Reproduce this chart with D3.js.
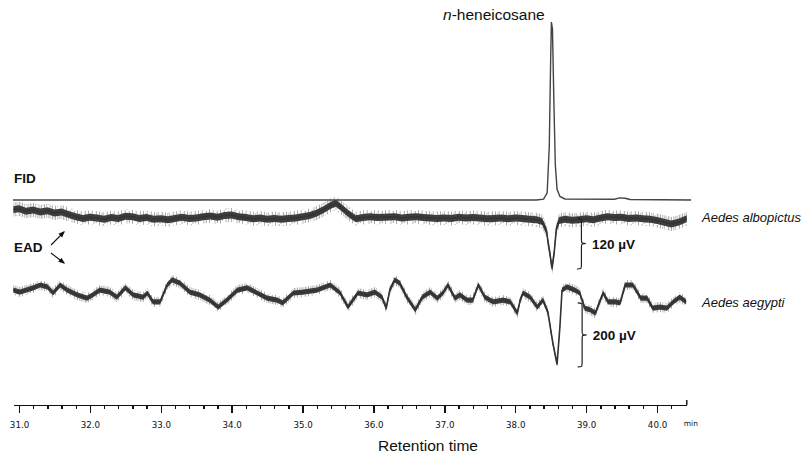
<!DOCTYPE html>
<html>
<head>
<meta charset="utf-8">
<title>GC-EAD</title>
<script src="https://cdnjs.cloudflare.com/ajax/libs/d3/7.8.5/d3.min.js"></script>
<style>
  body { margin: 0; background: #fff; font-family: "Liberation Sans", Arial, sans-serif; }
  .axis path, .axis line { fill: none; stroke: #111; stroke-width: 1.4; shape-rendering: crispEdges; }
  .axis text { font-family: "DejaVu Sans", Verdana, sans-serif; font-size: 8.7px; fill: #111; }
</style>
</head>
<body>
<div id="chart"></div>
<script>
// retention time (min), signal
var fidTrace = [
  [30.915, 0], [38.30, 0], [38.40, 0.5], [38.45, 4], [38.48, 30], [38.50, 80], [38.51, 100],
  [38.525, 96], [38.545, 55], [38.565, 20], [38.59, 6], [38.63, 2], [38.70, 0.6],
  [39.40, 0.4], [39.47, 1.2], [39.55, 1.0], [39.62, 0.3], [40.48, 0]
];

// EAD, Aedes albopictus (uV)
var albopictusTrace = [
  [30.92, 20], [31.0, 22], [31.1, 16], [31.2, 19], [31.3, 14], [31.4, 17], [31.5, 12], [31.6, 14],
  [31.7, 8], [31.8, 3], [31.9, -1], [32.0, 2], [32.1, 0], [32.2, -3], [32.3, 1], [32.4, -1],
  [32.5, 4], [32.6, 3], [32.7, -1], [32.8, 1], [32.9, -3], [33.0, -2], [33.1, -4], [33.2, -1],
  [33.3, 2], [33.4, -1], [33.5, 0], [33.6, 3], [33.7, 5], [33.8, 2], [33.9, 6], [34.0, 7],
  [34.1, 3], [34.2, 1], [34.3, -2], [34.4, 0], [34.5, -3], [34.6, -1], [34.7, -3], [34.8, -1],
  [34.9, 0], [35.0, 3], [35.1, 6], [35.2, 12], [35.3, 20], [35.4, 30], [35.47, 35], [35.55, 24],
  [35.65, 10], [35.75, -2], [35.85, 1], [35.95, 3], [36.05, 1], [36.15, 2], [36.3, 3], [36.4, 0],
  [36.5, 2], [36.6, 3], [36.7, 1], [36.8, 0], [36.9, -1], [37.0, 0], [37.1, -1], [37.2, 2],
  [37.3, 0], [37.4, 1], [37.5, 0], [37.6, -2], [37.7, -1], [37.8, 0], [37.9, -2], [38.0, 0],
  [38.1, -1], [38.2, -3], [38.3, -4], [38.38, -8], [38.44, -30], [38.48, -75], [38.52, -118],
  [38.55, -80], [38.58, -25], [38.62, -6], [38.7, -3], [38.8, -5], [38.9, -4], [39.0, -2],
  [39.1, -4], [39.2, 0], [39.3, 3], [39.4, 1], [39.5, 2], [39.6, -1], [39.7, 0], [39.8, -2],
  [39.9, -3], [40.0, -6], [40.1, -10], [40.2, -14], [40.3, -10], [40.42, -2]
];

// EAD, Aedes aegypti (uV)
var aegyptiTrace = [
  [30.92, 9], [31.01, 3], [31.20, 16], [31.30, 25], [31.40, 19], [31.48, 0], [31.58, 25], [31.68, 9],
  [31.82, -6], [31.96, -16], [32.04, -6], [32.14, 9], [32.28, 3], [32.38, -13], [32.50, 16], [32.61, -6],
  [32.75, -13], [32.81, 0], [32.89, -28], [32.99, -28], [33.09, 25], [33.16, 41], [33.27, 31], [33.41, 3],
  [33.55, -6], [33.69, -22], [33.81, -44], [33.93, -22], [34.08, 9], [34.22, 16], [34.36, 0], [34.50, -16],
  [34.64, -22], [34.72, -31], [34.87, 0], [35.01, 3], [35.20, 9], [35.39, 25], [35.53, 0], [35.64, -44],
  [35.78, 0], [35.91, -6], [36.02, 3], [36.12, -13], [36.18, -47], [36.23, 9], [36.30, 41], [36.37, 31],
  [36.47, -13], [36.59, -53], [36.69, -13], [36.80, 3], [36.90, -16], [36.98, 0], [37.05, 25], [37.15, -16],
  [37.22, -6], [37.32, -22], [37.40, -22], [37.48, 25], [37.57, -13], [37.69, -28], [37.83, -22], [37.93, -28],
  [38.03, -63], [38.07, -22], [38.11, 0], [38.21, -13], [38.31, -44], [38.39, -22], [38.46, -59], [38.53, -156],
  [38.59, -222], [38.63, -106], [38.66, 9], [38.73, 19], [38.84, 9], [38.91, 0], [38.98, -47], [39.06, -53],
  [39.13, -63], [39.20, -22], [39.24, 0], [39.31, -28], [39.41, -28], [39.48, -31], [39.55, 25], [39.66, 25],
  [39.77, -16], [39.86, -16], [39.94, -47], [40.04, -44], [40.14, -47], [40.23, -28], [40.32, -13], [40.41, -28]
];

var majorTicks = [31, 32, 33, 34, 35, 36, 37, 38, 39, 40];
var tickLabels = ["31.0", "32.0", "33.0", "34.0", "35.0", "36.0", "37.0", "38.0", "39.0", "40.0"];
var minorTicks = d3.range(31, 40.3, 0.2).filter(function(t) { return Math.abs(t - Math.round(t)) > 0.01; });

// scale bars on the EAD traces: [from, to] in uV
var albopictusBar = [0, -120];
var aegyptiBar = [-31, -231];

var svg = d3.select("#chart").append("svg")
  .attr("width", 808)
  .attr("height", 460);

var x = d3.scaleLinear().domain([30.915, 40.42]).range([13, 686.8]);
var yFid = d3.scaleLinear().domain([0, 100]).range([200, 22]);
var yAlb = d3.scaleLinear().domain([-120, 0]).range([269, 218]);
var yAeg = d3.scaleLinear().domain([-200, 0]).range([357, 293]);

var defs = svg.append("defs");

// irregular vertical hairs, used as the noise texture of the EAD recordings
var hairs = defs.append("pattern")
  .attr("id", "hairs")
  .attr("patternUnits", "userSpaceOnUse")
  .attr("width", 11).attr("height", 14);
[[0.5, 0, 14, 0.55], [2.5, 3, 11, 0.35], [4.2, 0, 9, 0.5], [6.0, 5, 14, 0.45], [8.3, 1, 13, 0.6], [9.8, 4, 10, 0.3]]
  .forEach(function(h) {
    hairs.append("line")
      .attr("x1", h[0]).attr("x2", h[0]).attr("y1", h[1]).attr("y2", h[2])
      .attr("stroke", "#555").attr("stroke-opacity", h[3]).attr("stroke-width", 0.9);
  });

function lineFor(y) {
  return d3.line().x(function(d) { return x(d[0]); }).y(function(d) { return y(d[1]); });
}
function bandFor(y, h) {
  return d3.area()
    .x(function(d) { return x(d[0]); })
    .y0(function(d) { return y(d[1]) + h; })
    .y1(function(d) { return y(d[1]) - h; });
}

// noisy EAD traces: hair texture, dark band, core line
function drawEad(data, y, band, spikes) {
  var g = svg.append("g");
  g.append("path").datum(data)
    .attr("d", bandFor(y, spikes))
    .attr("fill", "url(#hairs)");
  g.append("path").datum(data)
    .attr("d", bandFor(y, band))
    .attr("fill", "#3d3d3d");
  g.append("path").datum(data)
    .attr("d", lineFor(y))
    .attr("fill", "none")
    .attr("stroke", "#333")
    .attr("stroke-width", 1.6)
    .attr("stroke-linejoin", "round");
}

svg.append("path").datum(fidTrace)
  .attr("d", lineFor(yFid))
  .attr("fill", "none")
  .attr("stroke", "#444")
  .attr("stroke-width", 1.4);

drawEad(albopictusTrace, yAlb, 3.5, 7);
drawEad(aegyptiTrace, yAeg, 2.6, 5);

// axis
var axisY = 405;
svg.append("g")
  .attr("class", "axis")
  .attr("transform", "translate(0," + axisY + ")")
  .call(d3.axisBottom(x).tickValues(minorTicks).tickSize(4).tickSizeOuter(0).tickFormat(""));
svg.append("g")
  .attr("class", "axis")
  .attr("transform", "translate(0," + axisY + ")")
  .call(d3.axisBottom(x).tickValues(majorTicks).tickSize(8).tickSizeOuter(0).tickPadding(9)
    .tickFormat(function(d, i) { return tickLabels[i]; }))
  .call(function(g) { g.select(".domain").remove(); });
svg.append("line")
  .attr("x1", x.range()[1]).attr("x2", x.range()[1])
  .attr("y1", axisY).attr("y2", axisY - 5)
  .attr("stroke", "#111").attr("stroke-width", 1.4);
svg.append("text")
  .attr("x", x.range()[1] - 3).attr("y", axisY + 21)
  .style("font-family", "'DejaVu Sans', Verdana, sans-serif")
  .style("font-size", "7.5px").attr("fill", "#111")
  .text("min");
svg.append("text")
  .attr("x", 428).attr("y", 451)
  .attr("text-anchor", "middle")
  .style("font-size", "15.5px").attr("fill", "#111")
  .text("Retention time");

// peak label
var peakLabel = svg.append("text")
  .attr("x", 443).attr("y", 20)
  .style("font-size", "15.5px").attr("fill", "#111");
peakLabel.append("tspan").style("font-style", "italic").text("n");
peakLabel.append("tspan").text("-heneicosane");

// trace labels
svg.append("text").attr("x", 14).attr("y", 183)
  .style("font-size", "13.5px").style("font-weight", "bold").attr("fill", "#111").text("FID");
svg.append("text").attr("x", 14).attr("y", 252)
  .style("font-size", "13.5px").style("font-weight", "bold").attr("fill", "#111").text("EAD");
svg.append("text").attr("x", 702).attr("y", 222)
  .style("font-size", "13px").style("font-style", "italic").attr("fill", "#111").text("Aedes albopictus");
svg.append("text").attr("x", 702).attr("y", 307)
  .style("font-size", "13px").style("font-style", "italic").attr("fill", "#111").text("Aedes aegypti");

// arrows from EAD
defs.append("marker")
  .attr("id", "head").attr("viewBox", "0 0 10 10")
  .attr("refX", 8).attr("refY", 5)
  .attr("markerWidth", 6).attr("markerHeight", 6)
  .attr("orient", "auto")
  .append("path").attr("d", "M0,1L10,5L0,9z").attr("fill", "#111");
svg.append("line").attr("x1", 51).attr("y1", 245).attr("x2", 64).attr("y2", 232)
  .attr("stroke", "#111").attr("stroke-width", 1.1).attr("marker-end", "url(#head)");
svg.append("line").attr("x1", 51).attr("y1", 253).attr("x2", 64).attr("y2", 263)
  .attr("stroke", "#111").attr("stroke-width", 1.1).attr("marker-end", "url(#head)");

// braces
function brace(x0, y0, y1, w) {
  var m = (y0 + y1) / 2, h = w / 2;
  return "M" + x0 + "," + y0 +
    "C" + (x0 + h) + "," + y0 + " " + (x0 + h) + "," + y0 + " " + (x0 + h) + "," + (y0 + h) +
    "L" + (x0 + h) + "," + (m - h) +
    "C" + (x0 + h) + "," + m + " " + (x0 + h) + "," + m + " " + (x0 + w) + "," + m +
    "C" + (x0 + h) + "," + m + " " + (x0 + h) + "," + m + " " + (x0 + h) + "," + (m + h) +
    "L" + (x0 + h) + "," + (y1 - h) +
    "C" + (x0 + h) + "," + y1 + " " + (x0 + h) + "," + y1 + " " + x0 + "," + y1;
}
function drawBar(bar, y, t, label) {
  var x0 = x(t), y0 = y(bar[0]), y1 = y(bar[1]);
  svg.append("path")
    .attr("d", brace(x0, y0, y1, 9))
    .attr("fill", "none").attr("stroke", "#222").attr("stroke-width", 1.2);
  svg.append("text")
    .attr("x", x0 + 15).attr("y", (y0 + y1) / 2 + 5)
    .style("font-size", "13.5px").style("font-weight", "bold").attr("fill", "#111")
    .text(label);
}
drawBar(albopictusBar, yAlb, 38.87, "120 \u00b5V");
drawBar(aegyptiBar, yAeg, 38.88, "200 \u00b5V");
</script>
</body>
</html>
